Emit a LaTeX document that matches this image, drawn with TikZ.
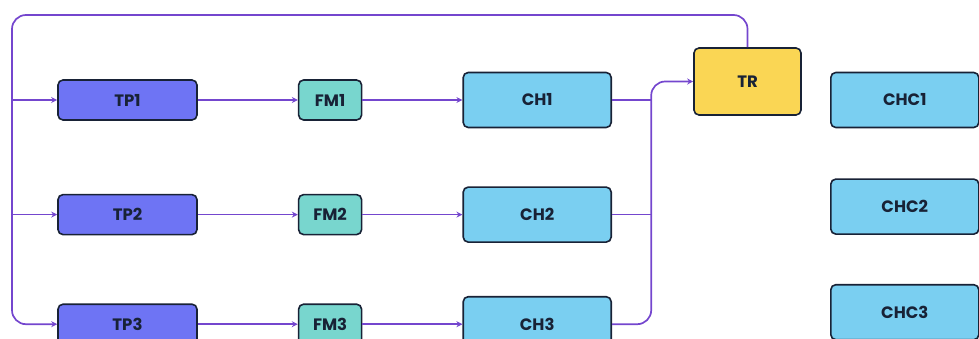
\documentclass[tikz,border=0pt]{standalone}
\usepackage{fontspec}
\setmainfont{Poppins}
\usepackage{tikz}
\usetikzlibrary{arrows.meta,positioning}
\definecolor{flowpurple}{RGB}{116,70,206}
\definecolor{boxnavy}{RGB}{24,34,54}
\definecolor{tpblue}{RGB}{110,116,244}
\definecolor{fmteal}{RGB}{120,214,206}
\definecolor{chsky}{RGB}{122,207,241}
\definecolor{tryellow}{RGB}{250,214,84}

\begin{document}
\begin{tikzpicture}[x=1pt,y=-1pt,font=\fontsize{16.5}{18}\selectfont\bfseries,
  >={Stealth[length=6pt,width=6pt]},
  box/.style={draw=boxnavy,line width=1.6pt,rounded corners=5pt,text=boxnavy,inner sep=0pt},
  flow/.style={draw=flowpurple,line width=1.7pt}]

  \useasboundingbox (0,0) rectangle (979,339);

  % sources
  \node[box,fill=tpblue,minimum width=139pt,minimum height=40pt] (tp1) at (127.5,100) {TP1};
  \node[box,fill=tpblue,minimum width=139pt,minimum height=40pt,below=73pt of tp1] (tp2) {TP2};
  \node[box,fill=tpblue,minimum width=139pt,minimum height=40pt,below=68pt of tp2] (tp3) {TP3};

  \node[box,fill=fmteal,minimum width=63pt,minimum height=40pt,right=100pt of tp1] (fm1) {FM1};
  \node[box,fill=fmteal,minimum width=63pt,minimum height=40pt,right=100pt of tp2] (fm2) {FM2};
  \node[box,fill=fmteal,minimum width=63pt,minimum height=40pt,right=100pt of tp3] (fm3) {FM3};

  \node[box,fill=chsky,minimum width=148pt,minimum height=55pt,right=100pt of fm1] (ch1) {CH1};
  \node[box,fill=chsky,minimum width=148pt,minimum height=55pt,right=100pt of fm2] (ch2) {CH2};
  \node[box,fill=chsky,minimum width=148pt,minimum height=55pt,right=100pt of fm3] (ch3) {CH3};

  \node[box,fill=tryellow,minimum width=107pt,minimum height=67pt] (tr) at (747.5,81.5) {TR};

  \node[box,fill=chsky,minimum width=148pt,minimum height=55pt,right=218pt of ch1] (chc1) {CHC1};
  \node[box,fill=chsky,minimum width=148pt,minimum height=55pt,below=50pt of chc1] (chc2) {CHC2};
  \node[box,fill=chsky,minimum width=148pt,minimum height=55pt,below=49pt of chc2] (chc3) {CHC3};

  % feedback loop and bus
  \coordinate (top) at (12,15);
  \coordinate[left=42pt of tr.west] (bus);

  \draw[flow,->,rounded corners=14pt] (tr.north) |- (top) |- (tp3.west);
  \draw[flow,->] (top |- tp1.west) -- (tp1.west);
  \draw[flow,->] (top |- tp2.west) -- (tp2.west);

  \foreach \i in {1,2,3} {
    \draw[flow,->] (tp\i) -- (fm\i);
    \draw[flow,->] (fm\i) -- (ch\i);
  }

  \draw[flow,->,rounded corners=14pt] (ch3.east) -| (bus) -- (tr.west);
  \draw[flow] (ch1.east) -- (ch1.east -| bus);
  \draw[flow] (ch2.east) -- (ch2.east -| bus);

\end{tikzpicture}
\end{document}
